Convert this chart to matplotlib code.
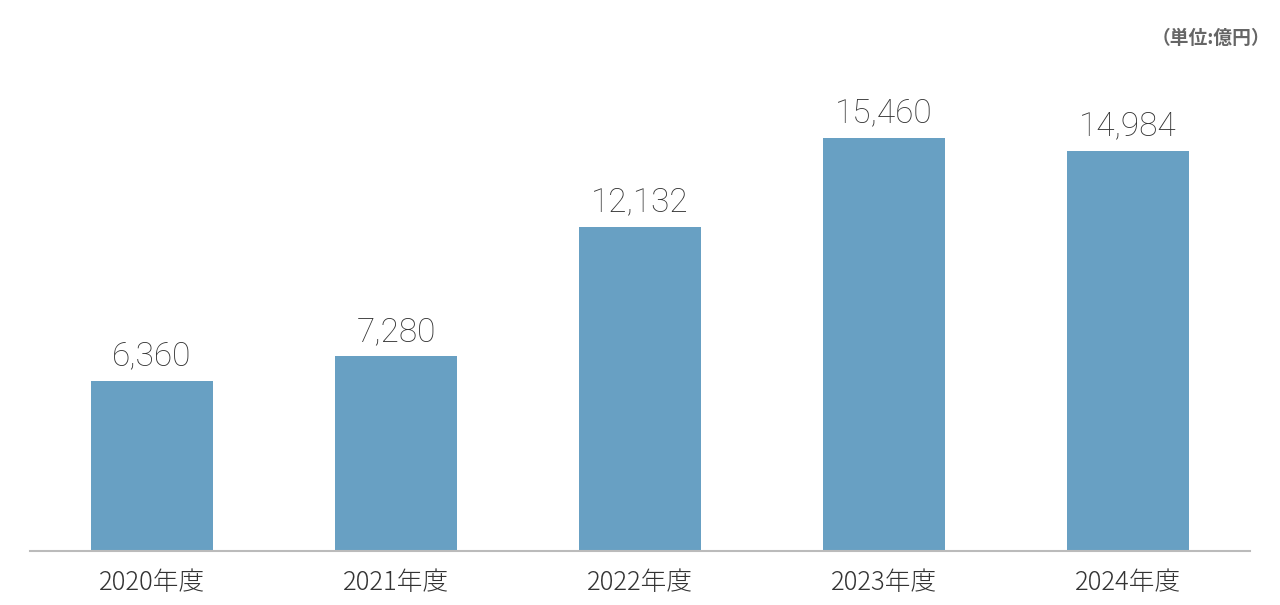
import matplotlib
matplotlib.use("Agg")
import matplotlib.pyplot as plt

plt.rcParams['font.family'] = ['Noto Sans CJK JP', 'DejaVu Sans']

years = ['2020年度', '2021年度', '2022年度', '2023年度', '2024年度']
values = [6360, 7280, 12132, 15460, 14984]
unit_label = '（単位:億円）'

fig = plt.figure(figsize=(12.8, 6.05), dpi=100)
ax = fig.add_axes([30 / 1280, 54 / 605, 1220 / 1280, 491 / 605])

x = range(len(years))
bars = ax.bar(x, values, width=0.5, color='#68a0c3')

for b, v in zip(bars, values):
    ax.annotate(f'{v:,}', (b.get_x() + b.get_width() / 2, v),
                xytext=(0, 6), textcoords='offset points',
                ha='center', va='bottom', fontsize=24, color='#333333',
                family=['Roboto', 'DejaVu Sans'], fontweight='light')

ax.set_xlim(-0.5, len(years) - 0.5)
ax.set_ylim(0, 18370)
ax.set_xticks(list(x))
ax.set_xticklabels(years, fontsize=18.5, color='#333333', fontweight='light')
ax.tick_params(axis='x', length=0, pad=13)
ax.set_yticks([])
for s in ['top', 'right', 'left']:
    ax.spines[s].set_visible(False)
ax.spines['bottom'].set_color('#bbbbbb')
ax.spines['bottom'].set_linewidth(1.5)

fig.text(1270 / 1280, 1 - 38 / 605, unit_label, ha='right', va='center',
         fontsize=13.5, color='#666666', fontweight='bold')

fig.savefig('out.png', dpi=100)
